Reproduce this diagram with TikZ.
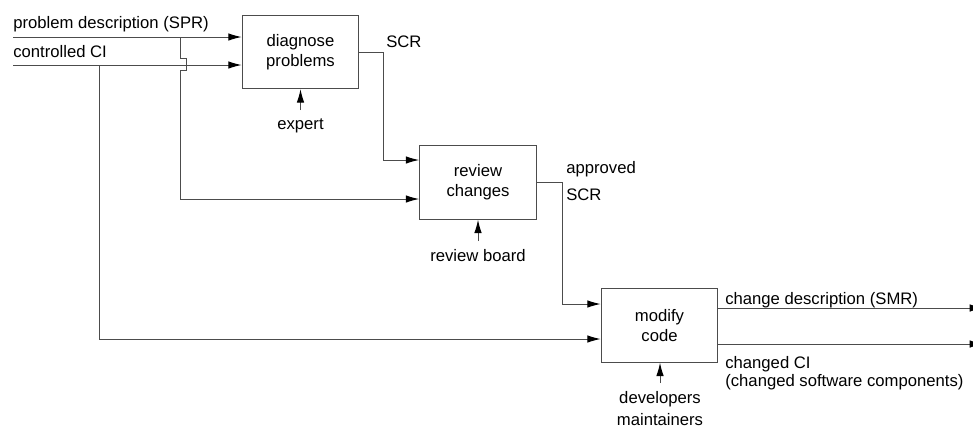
\documentclass[tikz,border=0pt]{standalone}
\usepackage{fontspec}
\setmainfont{Liberation Sans}
\usetikzlibrary{arrows.meta}
\begin{document}
\begin{tikzpicture}[x=0.6pt,y=-0.6pt,
  every node/.style={font=\fontsize{10}{12}\selectfont},
  line/.style={draw=black!70, line width=0.6pt},
  flow/.style={line, -{Latex[length=8pt,width=4.5pt,black]}},
  activity/.style={draw=black!70, line width=0.6pt, minimum width=70pt,
    minimum height=44pt, align=center, inner sep=0pt},
  lbl/.style={inner sep=0pt, align=left},
  ctrl/.style={inner xsep=2pt, inner ysep=5pt, align=center}]
\useasboundingbox (0,0) rectangle (973,427);
% activities
\node[activity] (diag) at (300.5,52) {diagnose\\problems};
\node[activity] (rev) at (478,182.5) {review\\changes};
\node[activity] (mod) at (659.5,325.5) {modify\\code};
% inputs
\coordinate (spr) at (13,37);
\coordinate (ci) at (13,65);
\node[lbl, anchor=base west] (sprlbl) at (13,28) {problem description (SPR)};
\node[lbl, anchor=base west] (cilbl) at (13,57) {controlled CI};
\draw[flow] (spr) -- (spr -| diag.west);
\draw[flow] (ci) -- (ci -| diag.west);
% branch of SPR with jump over CI
\coordinate (sprtap) at (180,37);
\coordinate (revin) at (180,199);
\draw[line] (sprtap) -- ++(0,21) -- ++(6,0) -- ++(0,12) -- ++(-6,0) -- (revin);
\draw[flow] (revin) -- (revin -| rev.west);
% branch of CI
\coordinate (citap) at (99.5,65);
\coordinate (modin) at (99.5,339);
\draw[flow] (citap) -- (modin) -- (modin -| mod.west);
% SCR
\coordinate (scrbend) at (383,160);
\node[lbl, anchor=base west] (scr) at (386,47) {SCR};
\draw[flow] (diag.east) -| (scrbend) -- (scrbend -| rev.west);
% approved SCR
\coordinate (apbend) at (562,304);
\node[lbl, anchor=base west] (appr) at (566,173) {approved};
\node[lbl, anchor=base west] (apscr) at (566,200) {SCR};
\draw[flow] (rev.east) -| (apbend) -- (apbend -| mod.west);
% outputs
\coordinate (smr) at (983,308);
\coordinate (cci) at (983,344);
\node[lbl, anchor=base west] (smrlbl) at (725,304) {change description (SMR)};
\node[lbl, anchor=north west] (ccilbl) at (725,356) {changed CI\\[-1pt](changed software components)};
\draw[flow] (mod.east |- smr) -- (smr);
\draw[flow] (mod.east |- cci) -- (cci);
% mechanisms
\node[ctrl, anchor=north] (expert) at (300.5,110) {expert};
\node[ctrl, anchor=north] (board) at (478,241) {review board};
\node[ctrl, anchor=north] (dev) at (660,383) {developers\\[1pt]maintainers};
\draw[flow] (expert.north) -- (expert.north |- diag.south);
\draw[flow] (board.north) -- (board.north |- rev.south);
\draw[flow] (dev.north) -- (dev.north |- mod.south);
\end{tikzpicture}
\end{document}
